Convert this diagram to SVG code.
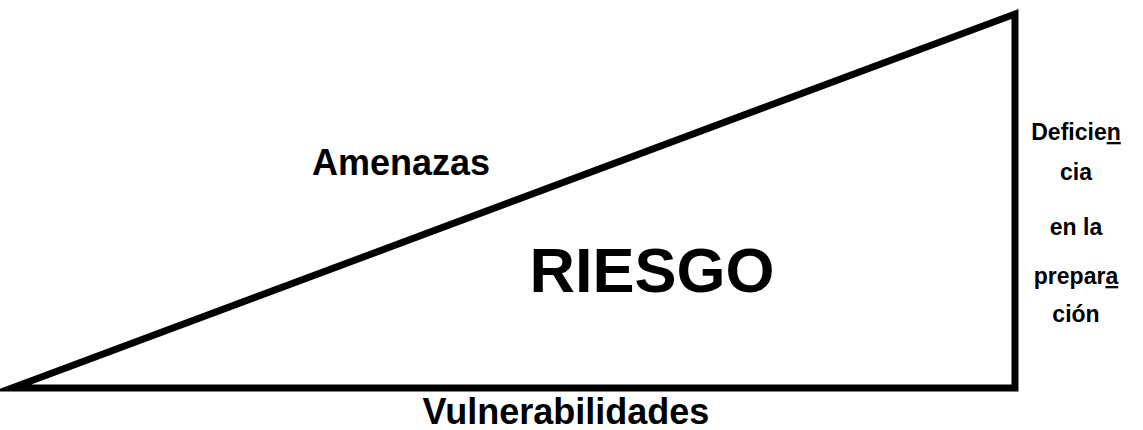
<svg xmlns="http://www.w3.org/2000/svg" width="1143" height="430" viewBox="0 0 1143 430">
<style>
.t{font-family:"Liberation Sans",Arial,sans-serif;font-weight:bold;fill:#000}
.s{font-size:23px;text-anchor:middle}
.u{text-decoration:underline}
</style>
<rect width="1143" height="430" fill="#fff"/>
<g id="triangle">
<polygon points="12,388 1015,14 1015,388" fill="none" stroke="#000" stroke-width="7" stroke-linejoin="miter" stroke-miterlimit="20"/>
</g>
<g id="labels">
<text class="t" x="401" y="175" font-size="36" text-anchor="middle">Amenazas</text>
<text class="t" x="652" y="292" font-size="63" text-anchor="middle">RIESGO</text>
<text class="t" x="566" y="424" font-size="36" text-anchor="middle">Vulnerabilidades</text>
<text class="t s" x="1076" y="140">Deficie<tspan class="u">n</tspan></text>
<text class="t s" x="1076" y="180">cia</text>
<text class="t s" x="1076" y="235">en la</text>
<text class="t s" x="1076" y="284">prepar<tspan class="u">a</tspan></text>
<text class="t s" x="1076" y="322">ción</text>
</g>
</svg>
